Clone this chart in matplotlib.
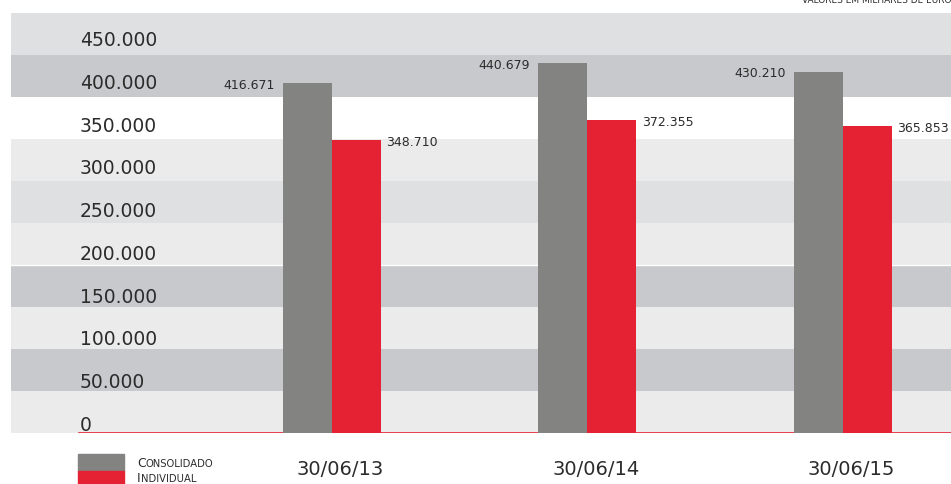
import numpy as np
import matplotlib
matplotlib.use("Agg")
import matplotlib.pyplot as plt
from matplotlib.patches import Rectangle

# data (valores em milhares de euro)
periods = ["30/06/13", "30/06/14", "30/06/15"]
consolidado = [416671, 440679, 430210]
individual = [348710, 372355, 365853]
value_labels_cons = ["416.671", "440.679", "430.210"]
value_labels_ind = ["348.710", "372.355", "365.853"]
y_ticks = [0, 50000, 100000, 150000, 200000, 250000, 300000, 350000, 400000, 450000]
band_colors = ["#ebebeb", "#c8c9cc", "#ebebeb", "#c8c9cc", "#ebebeb",
               "#dfe0e2", "#ebebeb", "#ffffff", "#c8c9cc", "#dfe0e2"]

GRAY = "#838381"
RED = "#e42234"
TXT = "#2b2b2b"

W, H = 951, 484
fig = plt.figure(figsize=(W / 100, H / 100), dpi=100)
ax = fig.add_axes([11 / W, 51 / H, 940 / W, 420 / H])
ax.set_xlim(-1.256, 2.423)
ax.set_ylim(0, 500000)
ax.axis("off")

# horizontal bands
for i, c in enumerate(band_colors):
    ax.axhspan(i * 50000, (i + 1) * 50000, color=c, lw=0, zorder=0)
ax.axhline(200000, color="white", lw=1, zorder=0.5)

x = np.arange(len(periods))
bw = 0.192
ax.bar(x - bw / 2, consolidado, bw, color=GRAY, zorder=2, clip_on=False)
ax.bar(x + bw / 2, individual, bw, color=RED, zorder=2, clip_on=False)
ax.axhline(0, xmin=68 / 940, xmax=1, color=RED, lw=1.2, zorder=1)

# y tick labels (drawn as text, left aligned above each line)
for v in y_ticks:
    lab = f"{v:,}".replace(",", ".") if v else "0"
    ax.text(69 / 940, v * 1.018 + 2500, lab, transform=ax.get_yaxis_transform(),
            ha="left", va="baseline", fontsize=13.5, color=TXT)

# value labels
for xi, v, lab in zip(x, consolidado, value_labels_cons):
    ax.annotate(lab, (xi - bw, v), xytext=(-6, 3), textcoords="offset points",
                ha="right", va="top", fontsize=9, color=TXT)
for xi, v, lab in zip(x, individual, value_labels_ind):
    ax.annotate(lab, (xi + bw, v), xytext=(4, 3), textcoords="offset points",
                ha="left", va="top", fontsize=9, color=TXT)

# category labels
for xi, lab in zip(x, periods):
    ax.annotate(lab, (xi, 0), xytext=(6, -26), textcoords="offset points",
                ha="center", va="center", fontsize=14, color=TXT,
                annotation_clip=False)

# legend
fig.patches.append(Rectangle((78 / W, (H - 471) / H), 46 / W, 17 / H,
                             transform=fig.transFigure, color=GRAY))
fig.patches.append(Rectangle((78 / W, (H - 488) / H), 46 / W, 17 / H,
                             transform=fig.transFigure, color=RED))


def small_caps(xp, yp, word, big=8.9, small=7.2):
    t = fig.text(xp / W, (H - yp) / H, word[0].upper(), fontsize=big,
                 color=TXT, va="baseline", ha="left")
    fig.canvas.draw()
    bb = t.get_window_extent()
    fig.text(bb.x1 / W, (H - yp) / H, word[1:].upper(), fontsize=small,
             color=TXT, va="baseline", ha="left")


small_caps(137, 467, "Consolidado")
small_caps(137, 482, "Individual")

# note at top right (clipped at the top edge, as in the source)
fig.text(1.0, (H - 3) / H, "VALORES EM MILHARES DE EURO", fontsize=6.5,
         color=TXT, ha="right", va="baseline")

fig.savefig("out.png", dpi=100)
